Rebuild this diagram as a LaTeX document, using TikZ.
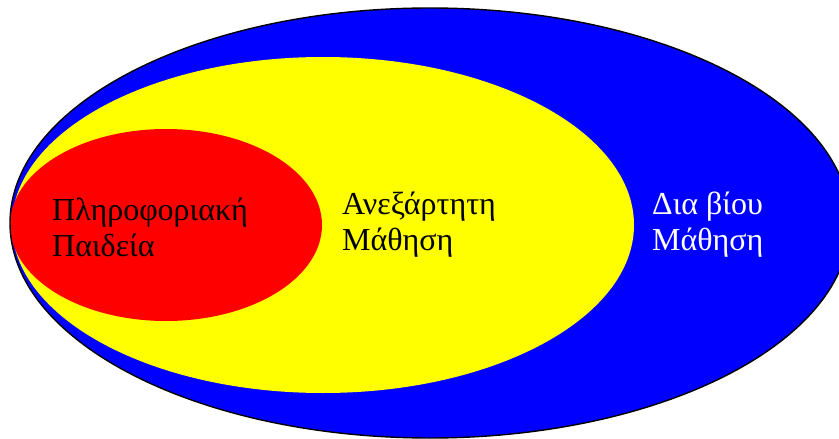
\documentclass[tikz,border=0pt]{standalone}
\usepackage{fontspec}
\setmainfont{Liberation Serif}
\usepackage{tikz}
\usetikzlibrary{positioning}
\definecolor{azulbio}{RGB}{0, 0, 255}
\definecolor{amarillo}{RGB}{255, 255, 0}
\definecolor{rojo}{RGB}{255, 0, 0}
\tikzset{
  etiqueta/.style={font=\fontsize{32}{36}\selectfont,align=left,inner sep=0pt,
                   anchor=north west},
  borde/.style={draw=black,line width=1.4pt},
}

\begin{document}
\begin{tikzpicture}[x=1pt,y=-1pt]
    \useasboundingbox (0,0) rectangle (839,439);
    % three nested fields
    \fill[azulbio] (430,223) ellipse [x radius=420,y radius=215];
    \fill[amarillo] (323,225) ellipse [x radius=311,y radius=168];
    \fill[rojo] (166,225) ellipse [x radius=156,y radius=96];
    \draw[borde] (430,223) ellipse [x radius=420,y radius=215];
    \node[etiqueta] (info) at (52,198) {Πληροφοριακή\\Παιδεία};
    \node[etiqueta] (anex) at (342,192) {Ανεξάρτητη\\Μάθηση};
    \node[etiqueta,text=white] (dia) at (652,192) {Δια βίου\\Μάθηση};
\end{tikzpicture}
\end{document}
